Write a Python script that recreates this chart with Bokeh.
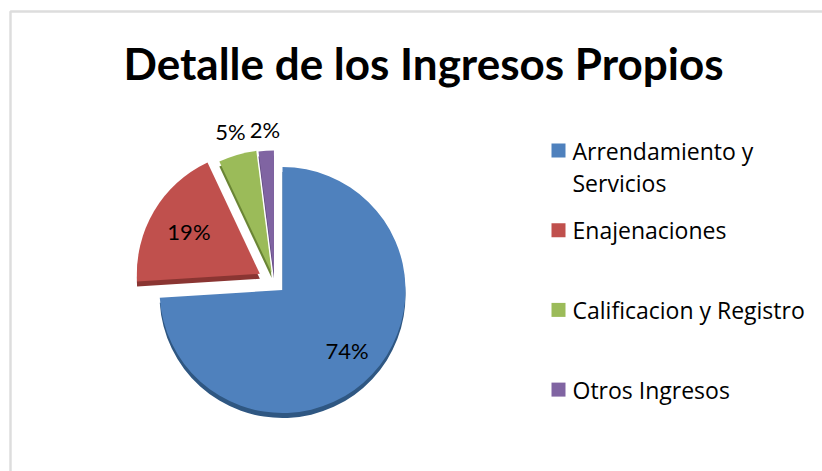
import math
from bokeh.plotting import figure
from bokeh.models import Range1d, BoxAnnotation
from bokeh.core.properties import value
from bokeh.embed import file_html
from bokeh.resources import INLINE

# ---- data ----
title_text = "Detalle de los Ingresos Propios"
categories = ["Arrendamiento y\nServicios", "Enajenaciones", "Calificacion y Registro", "Otros Ingresos"]
values = [74, 19, 5, 2]

# ---- styles ----
colors = ["#4F81BD", "#C0504D", "#9BBB59", "#8064A2"]
side_colors = ["#2F5782", "#8A3532", "#6A8535", "#5A4478"]
explode = [11, 17, 10, 9]                 # px along each slice's mid angle
label_radius = [0.72, 0.67, 1.20, 1.17]   # fraction of radius
FONT = "Lato"
LEG_FONT = "Open Sans"

W, H = 822, 471
cx, cy = 274, 189      # pie centre (data units = px)
R = 123
DEPTH = 5

p = figure(width=W, height=H, output_backend="svg", toolbar_location=None,
           x_range=Range1d(0, W), y_range=Range1d(0, H), min_border=0)
p.axis.visible = False
p.grid.visible = False
p.outline_line_color = None
p.background_fill_color = "white"

# chart border (top and left visible)
p.add_layout(BoxAnnotation(left=10, top=460, right=W + 100, bottom=-100,
                           fill_color=None, line_color="#8E8E8E", line_width=2.5))

total = float(sum(values))
cum = 0.0
slices = []
for i, v in enumerate(values):
    f0 = cum / total
    cum += v
    f1 = cum / total
    a0 = math.pi / 2 - 2 * math.pi * f0
    a1 = math.pi / 2 - 2 * math.pi * f1
    am = (a0 + a1) / 2
    ox = cx + explode[i] * math.cos(am)
    oy = cy + explode[i] * math.sin(am)
    slices.append((ox, oy, a0, a1, am))

# side (depth) wedges
for i, (ox, oy, a0, a1, am) in enumerate(slices):
    p.wedge(x=ox, y=oy - DEPTH, radius=R, start_angle=a0, end_angle=a1,
            direction="clock", fill_color=side_colors[i], line_color=None)
# top faces
for i, (ox, oy, a0, a1, am) in enumerate(slices):
    p.wedge(x=ox, y=oy, radius=R, start_angle=a0, end_angle=a1,
            direction="clock", fill_color=colors[i], line_color=None)

# percent labels
for i, (ox, oy, a0, a1, am) in enumerate(slices):
    pct = "%d%%" % round(100 * values[i] / total)
    lr = label_radius[i] * R
    p.text(x=[ox + lr * math.cos(am)], y=[oy + lr * math.sin(am)], text=[pct],
           text_font=value(FONT), text_font_size="22px", text_color="black",
           text_align="center", text_baseline="middle")

# title
p.text(x=[423], y=[409], text=[title_text], text_font=value(FONT),
       text_font_size="44px", text_font_style="bold", text_color="black",
       text_align="center", text_baseline="middle")

# legend
leg_x, leg_y0, leg_step, line_h = 558, 321, 79.7, 32
for i, cat in enumerate(categories):
    y = leg_y0 - i * leg_step
    p.scatter(x=[leg_x], y=[y], marker="square", size=14,
              fill_color=colors[i], line_color=None)
    for j, line in enumerate(cat.split("\n")):
        p.text(x=[leg_x + 14], y=[y - j * line_h], text=[line],
               text_font=value(LEG_FONT), text_font_size="23px", text_color="black",
               text_align="left", text_baseline="middle")

open("out.html", "w").write(file_html(p, INLINE))
